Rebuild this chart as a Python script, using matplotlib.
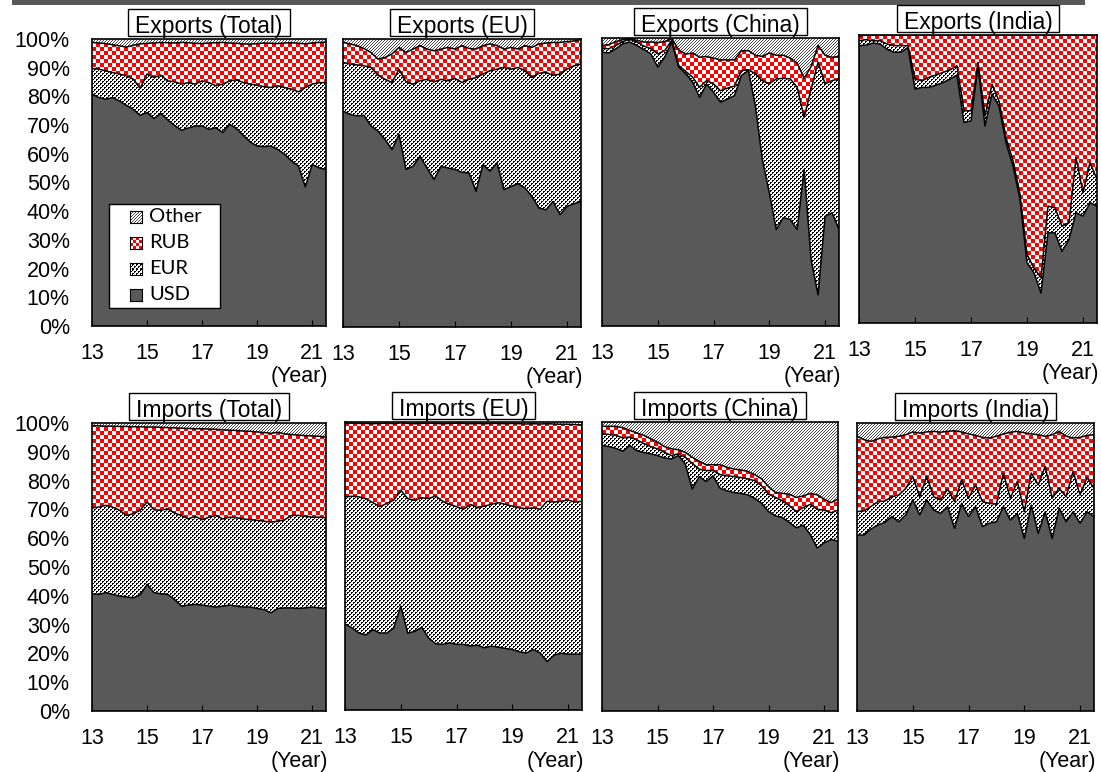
import numpy as np
import matplotlib
matplotlib.use("Agg")
import matplotlib.pyplot as plt
from matplotlib.patches import Polygon, Rectangle

plt.rcParams["font.family"] = ["Liberation Sans", "DejaVu Sans"]

# ---------------------------------------------------------------------------
# Quarterly observations 2013Q1 .. 2021Q3, axis labelled with two-digit years
# ---------------------------------------------------------------------------
QUARTER_X = 13 + np.arange(35) / 4
XTICKS = [13, 15, 17, 19, 21]
YTICKS = [0, 10, 20, 30, 40, 50, 60, 70, 80, 90, 100]
CURRENCIES = ["USD", "EUR", "RUB", "Other"]

# Currency shares of settlements (%)
EXP_TOTAL_USD = [80.8, 79.6, 79.0, 79.6, 78.4, 76.9, 75.5, 73.4, 74.4, 72.3, 74.1, 71.8, 69.9, 68.2, 69.0, 69.7, 69.7, 68.5,
                 69.1, 67.4, 70.3, 68.8, 66.4, 64.1, 62.7, 62.5, 62.7, 61.5, 59.8, 57.5, 55.7, 48.5, 56.3, 55.1, 54.5]
EXP_TOTAL_EUR = [8.9, 9.9, 9.9, 8.7, 9.4, 10.3, 10.5, 9.4, 13.4, 14.3, 13.3, 13.6, 15.2, 16.1, 15.8, 14.6, 15.7, 16.3,
                 14.6, 16.9, 15.1, 17.0, 18.4, 20.2, 21.2, 20.9, 20.4, 22.2, 23.3, 25.0, 25.9, 34.6, 28.0, 29.7, 30.3]
EXP_TOTAL_RUB = [9.1, 9.1, 9.5, 9.7, 9.8, 10.0, 11.8, 15.5, 10.7, 12.0, 11.4, 13.3, 13.5, 14.5, 13.9, 14.2, 13.0, 13.8,
                 15.0, 14.5, 13.2, 12.7, 13.5, 13.9, 14.5, 15.2, 15.4, 14.7, 15.5, 16.2, 16.9, 15.2, 14.3, 14.0, 14.1]
EXP_TOTAL_OTHER = [1.2, 1.4, 1.6, 2.0, 2.4, 2.8, 2.2, 1.7, 1.5, 1.4, 1.2, 1.3, 1.4, 1.2, 1.3, 1.5, 1.6, 1.4,
                   1.3, 1.2, 1.4, 1.5, 1.7, 1.8, 1.6, 1.4, 1.5, 1.6, 1.4, 1.3, 1.5, 1.7, 1.4, 1.2, 1.1]

EXP_EU_USD = [75.0, 73.8, 73.3, 73.5, 69.8, 68.0, 65.1, 61.6, 66.9, 54.7, 55.8, 59.3, 55.2, 51.2, 55.8, 55.2, 54.7, 53.7,
              53.5, 47.1, 56.4, 54.1, 57.0, 47.7, 48.8, 49.8, 48.3, 45.3, 41.3, 40.7, 43.6, 39.0, 41.9, 42.8, 43.6]
EXP_EU_EUR = [16.9, 17.5, 17.7, 17.2, 20.3, 19.4, 20.9, 23.3, 22.6, 30.4, 28.5, 26.2, 30.8, 33.9, 30.2, 30.3, 31.6, 31.2,
              32.5, 39.5, 31.4, 34.9, 32.5, 42.4, 40.7, 40.3, 40.7, 41.3, 46.8, 47.7, 43.8, 48.8, 47.6, 47.9, 47.7]
EXP_EU_RUB = [6.9, 7.0, 6.7, 6.0, 5.2, 5.6, 7.6, 9.9, 7.6, 10.2, 12.2, 12.2, 10.5, 10.8, 10.5, 11.6, 10.2, 12.8,
              10.7, 9.9, 9.9, 9.3, 8.2, 6.4, 7.6, 6.4, 8.7, 10.5, 10.2, 10.2, 11.4, 11.0, 9.6, 8.6, 8.5]
EXP_EU_OTHER = [1.2, 1.7, 2.3, 3.3, 4.7, 7.0, 6.4, 5.2, 2.9, 4.7, 3.5, 2.3, 3.5, 4.1, 3.5, 2.9, 3.5, 2.3,
                3.3, 3.5, 2.3, 1.7, 2.3, 3.5, 2.9, 3.5, 2.3, 2.9, 1.7, 1.4, 1.2, 1.2, 0.9, 0.7, 0.2]

EXP_CN_USD = [95.1, 94.8, 96.3, 98.0, 98.6, 97.4, 96.0, 94.5, 89.9, 93.4, 98.6, 89.9, 87.6, 84.7, 79.4, 84.0, 81.2, 77.7,
              78.8, 80.0, 87.0, 88.7, 76.5, 57.9, 46.3, 33.5, 37.6, 37.0, 33.5, 54.4, 23.0, 10.8, 38.1, 39.3, 33.5]
EXP_CN_EUR = [1.2, 1.5, 1.1, 0.8, 0.9, 1.2, 1.2, 1.8, 4.6, 2.2, 0.6, 0.6, 0.8, 1.7, 3.5, 1.2, 2.9, 4.0,
              3.8, 3.3, 1.7, 0.3, 11.1, 27.3, 37.8, 52.3, 48.4, 48.8, 49.4, 18.0, 59.3, 80.8, 46.0, 45.9, 52.3]
EXP_CN_RUB = [1.1, 1.4, 1.4, 0.7, 0.3, 0.6, 1.4, 2.3, 3.9, 3.2, 0.6, 5.4, 6.0, 8.4, 10.4, 8.4, 8.9, 10.7,
              9.8, 9.1, 6.9, 6.6, 6.4, 8.4, 10.7, 8.2, 8.0, 7.2, 8.4, 13.6, 7.8, 5.8, 9.9, 8.1, 7.8]
EXP_CN_OTHER = [2.6, 2.3, 1.2, 0.5, 0.2, 0.8, 1.4, 1.4, 1.6, 1.2, 0.2, 4.1, 5.6, 5.2, 6.7, 6.4, 7.0, 7.6,
                7.6, 7.6, 4.4, 4.4, 6.0, 6.4, 5.2, 6.0, 6.0, 7.0, 8.7, 14.0, 9.9, 2.6, 6.0, 6.7, 6.4]

EXP_IN_USD = [96.3, 96.5, 97.2, 96.9, 95.1, 94.0, 94.0, 95.7, 81.2, 81.8, 81.8, 82.6, 83.5, 84.7, 86.1, 69.6, 70.2, 89.3,
              68.4, 79.5, 75.4, 62.6, 54.5, 42.9, 20.9, 17.4, 10.4, 31.3, 31.3, 24.9, 29.0, 38.3, 37.1, 41.8, 40.6]
EXP_IN_EUR = [1.7, 1.9, 0.8, 1.1, 1.8, 2.3, 2.3, 0.6, 3.5, 2.3, 3.5, 3.5, 3.5, 3.2, 3.2, 4.1, 3.5, 1.2,
              3.5, 3.4, 1.7, 1.8, 1.8, 1.8, 2.9, 1.7, 5.3, 9.3, 8.7, 8.7, 5.8, 19.1, 8.1, 13.9, 9.3]
EXP_IN_RUB = [1.7, 1.5, 2.0, 2.0, 3.1, 3.7, 3.7, 3.7, 15.3, 15.9, 14.7, 13.9, 13.0, 12.1, 10.7, 26.3, 26.3, 9.5,
              28.1, 17.1, 22.9, 35.6, 43.7, 55.3, 76.2, 80.9, 84.3, 59.4, 60.0, 66.4, 65.2, 42.6, 54.8, 44.3, 50.1]
EXP_IN_OTHER = [0.3, 0.1, 0.0, 0.0, 0.0, 0.0, 0.0, 0.0, 0.0, 0.0, 0.0, 0.0, 0.0, 0.0, 0.0, 0.0, 0.0, 0.0,
                0.0, 0.0, 0.0, 0.0, 0.0, 0.0, 0.0, 0.0, 0.0, 0.0, 0.0, 0.0, 0.0, 0.0, 0.0, 0.0, 0.0]

IMP_TOTAL_USD = [40.7, 40.5, 41.1, 40.5, 39.9, 39.6, 39.3, 40.3, 44.0, 41.1, 40.7, 40.5, 38.7, 36.4, 36.8, 37.0, 36.8, 36.4,
                 36.1, 36.4, 36.8, 36.4, 36.1, 36.1, 35.6, 35.2, 34.1, 35.6, 35.8, 35.8, 35.6, 35.8, 36.1, 35.8, 35.6]
IMP_TOTAL_EUR = [29.8, 30.3, 30.3, 30.3, 29.8, 28.3, 29.2, 29.4, 28.6, 28.8, 29.0, 29.7, 30.0, 31.5, 29.9, 30.6, 29.6, 30.9,
                 31.8, 30.3, 30.5, 30.7, 30.6, 30.3, 30.6, 30.7, 31.5, 30.3, 30.6, 32.1, 32.3, 31.8, 31.2, 31.5, 31.5]
IMP_TOTAL_RUB = [28.6, 28.2, 27.5, 28.1, 29.1, 30.9, 30.2, 29.0, 26.0, 28.7, 28.8, 28.2, 29.6, 30.3, 31.4, 30.4, 31.6, 30.6,
                 29.9, 30.9, 30.2, 30.3, 30.5, 30.7, 30.7, 30.8, 30.8, 30.9, 29.8, 28.1, 27.9, 28.0, 28.2, 28.1, 28.0]
IMP_TOTAL_OTHER = [0.9, 1.0, 1.1, 1.1, 1.2, 1.2, 1.3, 1.3, 1.4, 1.4, 1.5, 1.6, 1.7, 1.8, 1.9, 2.0, 2.0, 2.1,
                   2.2, 2.4, 2.5, 2.6, 2.8, 2.9, 3.1, 3.3, 3.6, 3.2, 3.8, 4.0, 4.2, 4.4, 4.5, 4.6, 4.9]

IMP_EU_USD = [29.9, 28.5, 26.7, 26.1, 27.9, 26.7, 26.7, 28.5, 36.1, 26.7, 27.3, 28.7, 25.0, 23.0, 22.8, 23.3, 22.8, 22.8,
              22.2, 22.5, 21.6, 22.2, 21.8, 21.4, 21.0, 20.2, 19.8, 21.0, 19.8, 16.8, 19.1, 19.7, 19.4, 19.4, 19.4]
IMP_EU_EUR = [44.1, 45.7, 47.3, 47.3, 44.1, 43.9, 45.0, 44.4, 40.2, 46.7, 45.5, 45.0, 48.4, 51.3, 49.7, 48.1, 47.8, 46.9,
              49.2, 47.7, 49.2, 49.2, 50.2, 50.0, 49.8, 50.0, 50.1, 49.2, 49.9, 55.7, 53.1, 52.8, 53.5, 52.8, 53.1]
IMP_EU_RUB = [25.6, 25.4, 25.5, 26.1, 27.4, 28.9, 27.9, 26.5, 23.4, 26.1, 26.6, 25.8, 26.2, 25.2, 26.9, 28.1, 29.0, 29.8,
              28.0, 29.3, 28.6, 28.1, 27.5, 28.0, 28.7, 29.2, 29.4, 29.2, 29.6, 26.9, 27.1, 26.7, 26.3, 26.9, 26.5]
IMP_EU_OTHER = [0.4, 0.4, 0.5, 0.5, 0.6, 0.5, 0.4, 0.6, 0.3, 0.5, 0.6, 0.5, 0.4, 0.5, 0.6, 0.5, 0.4, 0.5,
                0.6, 0.5, 0.6, 0.5, 0.5, 0.6, 0.5, 0.6, 0.7, 0.6, 0.7, 0.6, 0.7, 0.8, 0.8, 0.9, 1.0]

IMP_CN_USD = [91.9, 91.5, 90.9, 89.9, 91.9, 90.1, 89.5, 89.0, 88.4, 87.6, 87.2, 88.4, 85.5, 76.8, 81.1, 79.4, 81.4, 77.1,
              76.2, 75.6, 75.3, 74.8, 73.6, 71.8, 69.0, 67.5, 66.9, 65.2, 63.4, 64.3, 61.1, 56.4, 58.2, 59.3, 58.8]
IMP_CN_EUR = [4.0, 4.2, 4.5, 4.6, 2.9, 3.7, 3.1, 2.5, 2.3, 1.9, 1.2, 0.6, 2.3, 8.9, 2.6, 3.8, 1.8, 4.7,
              5.2, 5.5, 5.5, 5.5, 6.1, 6.1, 6.0, 6.4, 5.8, 5.8, 5.6, 6.1, 10.4, 13.4, 11.3, 9.3, 10.7]
IMP_CN_RUB = [2.6, 2.8, 3.1, 3.5, 2.3, 2.4, 2.8, 2.7, 2.3, 2.0, 2.3, 1.4, 1.7, 2.1, 2.7, 2.0, 2.0, 3.4,
              2.9, 2.6, 2.6, 2.6, 2.1, 2.4, 2.6, 1.7, 2.6, 4.0, 4.9, 4.0, 3.8, 5.0, 3.8, 3.5, 3.8]
IMP_CN_OTHER = [1.5, 1.5, 1.5, 2.0, 2.9, 3.8, 4.6, 5.8, 7.0, 8.5, 9.3, 9.6, 10.5, 12.2, 13.6, 14.8, 14.8, 14.8,
                15.7, 16.3, 16.6, 17.1, 18.2, 19.7, 22.4, 24.4, 24.7, 25.0, 26.1, 25.6, 24.7, 25.2, 26.7, 27.9, 26.7]

IMP_IN_USD = [61.1, 61.1, 63.2, 64.6, 65.5, 67.5, 65.7, 68.1, 73.3, 68.1, 73.3, 69.8, 68.6, 71.0, 63.4, 72.1, 67.5, 71.0,
              64.0, 65.2, 65.7, 71.0, 66.3, 68.6, 59.9, 71.5, 61.7, 69.2, 59.9, 70.4, 65.7, 69.2, 65.2, 69.2, 67.5]
IMP_IN_EUR = [8.1, 8.4, 7.8, 8.1, 7.4, 6.9, 9.3, 9.2, 8.1, 6.3, 8.1, 4.6, 4.7, 6.1, 9.3, 8.2, 6.4, 7.5,
              8.7, 6.9, 6.1, 11.6, 7.6, 11.1, 9.3, 11.1, 16.8, 15.7, 14.0, 6.9, 8.7, 14.0, 9.8, 11.9, 9.8]
IMP_IN_RUB = [26.2, 24.7, 22.6, 21.8, 22.1, 20.7, 20.4, 18.6, 15.5, 22.1, 15.5, 22.7, 23.5, 20.0, 24.6, 16.6, 22.3, 17.2,
              22.3, 22.7, 23.6, 13.6, 22.9, 17.4, 27.4, 13.6, 17.4, 10.5, 22.0, 19.8, 21.0, 11.6, 20.0, 14.6, 18.6]
IMP_IN_OTHER = [4.6, 5.8, 6.4, 5.5, 5.0, 4.9, 4.6, 4.1, 3.1, 3.5, 3.1, 2.9, 3.2, 2.9, 2.7, 3.1, 3.8, 4.3,
                5.0, 5.2, 4.6, 3.8, 3.2, 2.9, 3.4, 3.8, 4.1, 4.6, 4.1, 2.9, 4.6, 5.2, 5.0, 4.3, 4.1]

# ---------------------------------------------------------------------------
W, H = 1101, 772
DARK = "#595959"
fig = plt.figure(figsize=(W / 100, H / 100), dpi=100)
fig.patch.set_facecolor("white")


# Bitmap fill patterns (one image pixel per screen pixel)
def pattern_checker(h, w, size=4):
    r, c = np.mgrid[0:h, 0:w]
    mask = ((r // size + c // size) % 2) == 0
    img = np.ones((h, w, 3))
    img[mask] = (1.0, 0.0, 0.0)
    return img


def pattern_diagonal(h, w, period=3):
    r, c = np.mgrid[0:h, 0:w]
    mask = (r + c) % period == 0
    img = np.ones((h, w, 3))
    img[mask] = 0.28
    return img


DOT_TILE = np.array([
    [1, 1, 0, 0],
    [1, 0, 0, 0],
    [0, 0, 1, 1],
    [0, 0, 1, 0],
], dtype=bool)


def pattern_dots(h, w):
    r, c = np.mgrid[0:h, 0:w]
    mask = DOT_TILE[r % 4, c % 4]
    img = np.ones((h, w, 3))
    img[mask] = 0.0
    return img


LAYER_PATTERNS = {"EUR": pattern_dots, "RUB": pattern_checker, "Other": pattern_diagonal}


def px_axes(left, top, right, bottom):
    return fig.add_axes([left / W, 1 - bottom / H, (right - left) / W, (bottom - top) / H])


def draw_panel(rect, title, usd, eur, rub, other, show_y):
    left, top, right, bottom = rect
    ax = px_axes(left, top, right, bottom)
    w_px, h_px = right - left, bottom - top
    x = QUARTER_X
    levels = np.cumsum(np.vstack([usd, eur, rub, other]), axis=0)

    ax.fill_between(x, 0, levels[0], facecolor=DARK, lw=0, zorder=1)
    for k, name in enumerate(CURRENCIES[1:], start=1):
        lo, hi = levels[k - 1], levels[k]
        verts = np.column_stack([np.r_[x, x[::-1]], np.r_[lo, hi[::-1]]])
        poly = Polygon(verts, closed=True, transform=ax.transData, fc="none", ec="none")
        ax.add_patch(poly)
        im = ax.imshow(LAYER_PATTERNS[name](h_px, w_px), extent=(13, 21.5, 0, 100),
                       aspect="auto", interpolation="nearest", zorder=2)
        im.set_clip_path(poly)
    for k in range(3):
        ax.plot(x, levels[k], color="black", lw=1.1, zorder=4)

    ax.set_xlim(13, 21.5)
    ax.set_ylim(0, 100)
    ax.set_xticks(XTICKS)
    ax.set_xticklabels([str(v) for v in XTICKS])
    ax.tick_params(axis="x", direction="in", length=4.5, width=0.8, pad=12,
                   labelsize=15.5, color="black")
    if show_y:
        ax.set_yticks(YTICKS)
        ax.set_yticklabels([f"{v}%" for v in YTICKS])
        ax.tick_params(axis="y", length=0, pad=16, labelsize=15.5)
    else:
        ax.set_yticks([])
    ax.xaxis.set_zorder(9)
    for sp in ax.spines.values():
        sp.set_linewidth(1.2)
        sp.set_color("black")
        sp.set_zorder(10)

    ax.annotate("(Year)", xy=(1, 0), xycoords="axes fraction", xytext=(2, -51),
                textcoords="offset pixels", ha="right", va="center", fontsize=15.5)

    # boxed panel title
    cx = (left + right) / 2
    box_bottom = top - 3
    t = fig.text(cx / W, 1 - (box_bottom - 3) / H, title, ha="center",
                 va="baseline", fontsize=16.5, zorder=5)
    bb = t.get_window_extent(fig.canvas.get_renderer())
    fig.add_artist(Rectangle(((bb.x0 - 7) / W, 1 - box_bottom / H), (bb.width + 14) / W, 27 / H,
                             transform=fig.transFigure, fc="white", ec="black", lw=1.0, zorder=4))
    return ax


PANELS = [
    ((92, 39, 326, 326), "Exports (Total)", EXP_TOTAL_USD, EXP_TOTAL_EUR, EXP_TOTAL_RUB, EXP_TOTAL_OTHER, True),
    ((343, 39, 581, 327), "Exports (EU)", EXP_EU_USD, EXP_EU_EUR, EXP_EU_RUB, EXP_EU_OTHER, False),
    ((602, 38, 839, 326), "Exports (China)", EXP_CN_USD, EXP_CN_EUR, EXP_CN_RUB, EXP_CN_OTHER, False),
    ((859, 35, 1097, 323), "Exports (India)", EXP_IN_USD, EXP_IN_EUR, EXP_IN_RUB, EXP_IN_OTHER, False),
    ((92, 423, 326, 711), "Imports (Total)", IMP_TOTAL_USD, IMP_TOTAL_EUR, IMP_TOTAL_RUB, IMP_TOTAL_OTHER, True),
    ((345, 422, 582, 710), "Imports (EU)", IMP_EU_USD, IMP_EU_EUR, IMP_EU_RUB, IMP_EU_OTHER, False),
    ((602, 422, 838, 711), "Imports (China)", IMP_CN_USD, IMP_CN_EUR, IMP_CN_RUB, IMP_CN_OTHER, False),
    ((857, 423, 1094, 711), "Imports (India)", IMP_IN_USD, IMP_IN_EUR, IMP_IN_RUB, IMP_IN_OTHER, False),
]

for spec in PANELS:
    draw_panel(*spec)

# banner strip along the top edge
fig.add_artist(Rectangle((12 / W, 1 - 5 / H), (1085 - 12) / W, 5 / H,
                         transform=fig.transFigure, fc=DARK, ec="none", zorder=1))

# legend inside the first panel
leg_l, leg_t, leg_r, leg_b = 109, 204, 220, 308
fig.add_artist(Rectangle((leg_l / W, 1 - leg_b / H), (leg_r - leg_l) / W, (leg_b - leg_t) / H,
                         transform=fig.transFigure, fc="white", ec="black", lw=1.0, zorder=20))
legend_rows = [("Other", 217), ("RUB", 243), ("EUR", 269), ("USD", 295)]
for name, yc in legend_rows:
    sw = px_axes(130, yc - 6, 142, yc + 6)
    sw.set_zorder(21)
    if name == "USD":
        sw.imshow(np.full((12, 12, 3), 0x59 / 255), interpolation="nearest", aspect="auto")
    elif name == "RUB":
        sw.imshow(pattern_checker(12, 12, size=3), interpolation="nearest", aspect="auto")
    else:
        sw.imshow(LAYER_PATTERNS[name](12, 12), interpolation="nearest", aspect="auto")
    sw.set_xticks([])
    sw.set_yticks([])
    for sp in sw.spines.values():
        sp.set_linewidth(0.8)
    fig.text(149 / W, 1 - yc / H, name, ha="left", va="center", fontsize=14.5,
             family=["Lato", "DejaVu Sans"], zorder=22)

fig.savefig("out.png", dpi=100)
